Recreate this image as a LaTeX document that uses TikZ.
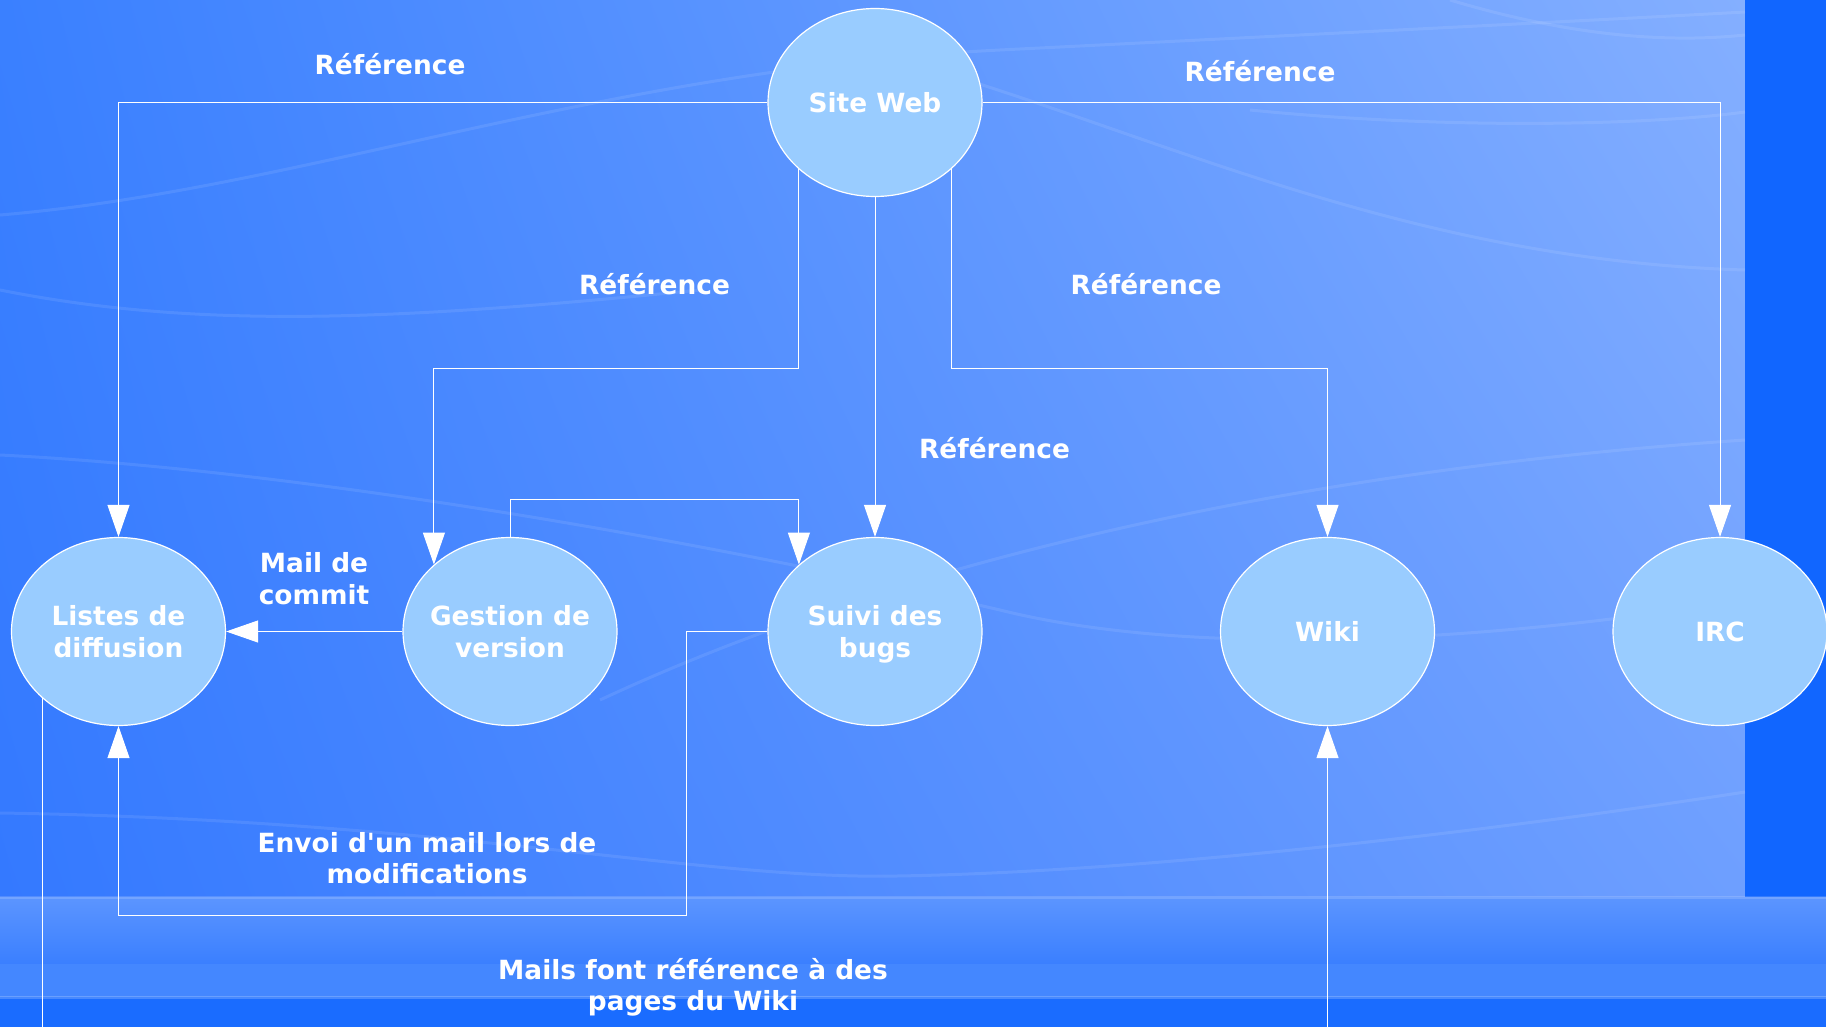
\documentclass[tikz,border=0pt]{standalone}
\usepackage{fontspec}
\setmainfont{DejaVu Sans}
\usetikzlibrary{shapes.geometric,arrows.meta,shadings}
\definecolor{fondHG}{HTML}{3A80FF}
\definecolor{fondHD}{HTML}{84AFFF}
\definecolor{fondBG}{HTML}{3479FF}
\definecolor{fondBD}{HTML}{6E9FFF}
\definecolor{bande}{HTML}{1166FF}
\definecolor{bandeA}{HTML}{5C95FF}
\definecolor{bandeB}{HTML}{3A7FFF}
\definecolor{bandeC}{HTML}{4487FF}
\definecolor{bandeD}{HTML}{1A6CFF}
\definecolor{bulleBleu}{HTML}{99CCFF}
\begin{document}
\begin{tikzpicture}[x=0.5pt, y=-0.5pt,
  bulle/.style={ellipse, draw=white, line width=0.6pt, fill=bulleBleu,
    minimum width=107pt, minimum height=94pt, inner sep=-8pt, text=white,
    font=\fontsize{13.2}{15.7}\selectfont\bfseries, align=center},
  etiq/.style={text=white, font=\fontsize{13.2}{15.7}\selectfont\bfseries, align=center},
  trait/.style={draw=white, line width=0.5pt},
  lien/.style={trait, -{Triangle[length=16pt, width=11pt]}},
  vague/.style={white, opacity=0.09, line width=1.5pt}]
\useasboundingbox (0,0) rectangle (1826,1027);
% fond
\shade[upper left=fondHG, upper right=fondHD, lower left=fondBG, lower right=fondBD] (0,0) rectangle (1745,897);
\fill[bande] (1745,0) rectangle (1826,897);
\shade[top color=bandeA, bottom color=bandeB] (0,897) rectangle (1826,964);
\fill[bandeC] (0,964) rectangle (1826,997);
\fill[bandeD] (0,997) rectangle (1826,1027);
\draw[white, opacity=0.15, line width=1.5pt] (0,897) -- (1826,897);
\draw[white, opacity=0.2, line width=1.5pt] (0,997) -- (1826,997);
\begin{scope}
\clip (0,0) rectangle (1745,897);
\draw[vague] (0,813) .. controls (450,820) and (700,880) .. (897,876) .. controls (1150,872) and (1500,830) .. (1745,792);
\draw[vague] (0,215) .. controls (300,190) and (600,70) .. (1000,50) .. controls (1300,35) and (1600,20) .. (1745,12);
\draw[vague] (900,60) .. controls (1150,130) and (1400,260) .. (1745,270);
\draw[vague] (1450,0) .. controls (1550,30) and (1650,45) .. (1745,35);
\draw[vague] (1250,110) .. controls (1450,130) and (1650,125) .. (1745,112);
\draw[vague] (600,700) .. controls (900,560) and (1300,470) .. (1745,440);
\draw[vague] (0,455) .. controls (300,470) and (700,540) .. (1000,610) .. controls (1200,660) and (1500,640) .. (1745,600);
\draw[vague] (0,290) .. controls (200,330) and (400,320) .. (700,290);
\end{scope}
% noeuds
\node[bulle] (SW) at (875,102.5) {Site Web};
\node[bulle] (L) at (118.5,631.5) {Listes de\\diffusion};
\node[bulle] (G) at (510,631.5) {Gestion de\\version};
\node[bulle] (S) at (875,631.5) {Suivi des\\\smash{bugs}};
\node[bulle] (W) at (1327.5,631.5) {Wiki};
\node[bulle] (I) at (1720,631.5) {IRC};
\coordinate (refY) at (0,368);
\coordinate (gsY) at (0,499.6);
\coordinate (mailC) at (686,915.3);
\coordinate (bas) at (0,1027);
% liens
\draw[lien] (SW.west) -| (L.north);
\draw[lien] (SW.east) -| (I.north);
\draw[lien] (SW.south west) -- (SW.south west |- refY) -| (G.north west);
\draw[lien] (SW.south) -- (S.north);
\draw[lien] (SW.south east) -- (SW.south east |- refY) -| (W.north);
\draw[lien] (G.north) -- (G.north |- gsY) -| (S.north west);
\draw[lien] (G.west) -- (L.east);
\draw[lien] (S.west) -| (mailC) -| (L.south);
\draw[trait] (L.south west) -- (L.south west |- bas);
\draw[lien] (W.south |- bas) -- (W.south);
% etiquettes
\node[etiq] (r1) at (390,64) {Référence};
\node[etiq] (r2) at (1260,71) {Référence};
\node[etiq] (r3) at (654.5,284) {Référence};
\node[etiq] (r4) at (1146,284) {Référence};
\node[etiq] (r5) at (994.5,448) {Référence};
\node[etiq] (commit) at (314,578.7) {Mail de\\commit};
\node[etiq] (envoi) at (427,858) {Envoi d\textquotesingle un mail lors de\\modifications};
\node[etiq] (mails) at (693,987.5) {Mails font référence à des\\pages du Wiki};
\end{tikzpicture}
\end{document}
